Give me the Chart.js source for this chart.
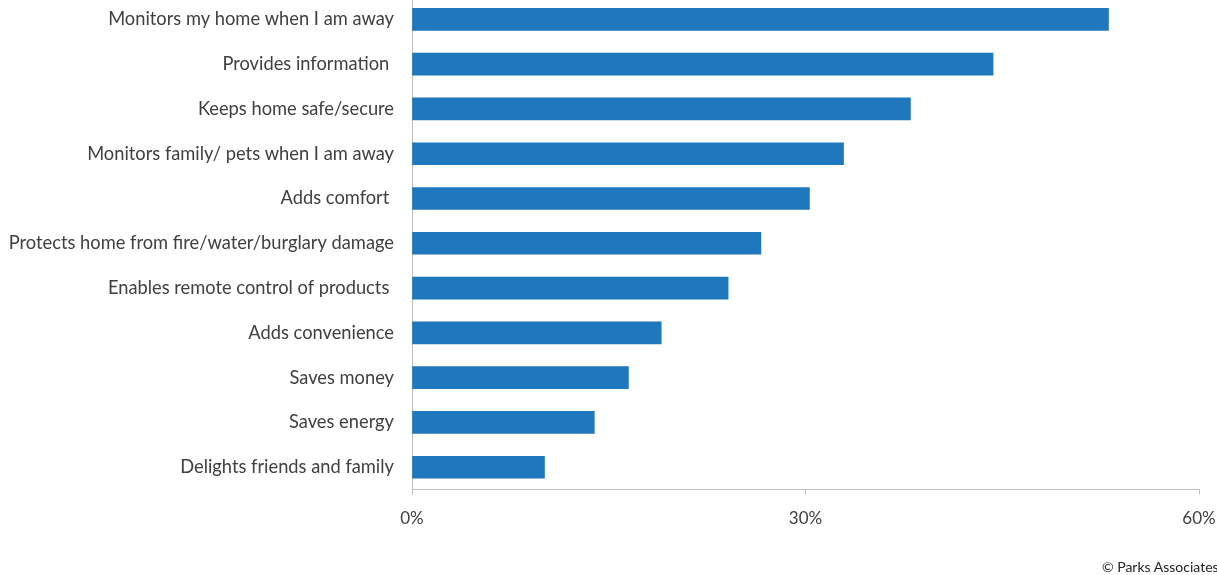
<!DOCTYPE html>
<html>
<head>
<meta charset="utf-8">
<script src="https://cdn.jsdelivr.net/npm/chart.js@4"></script>
<style>
  body { margin: 0; background: #fff; overflow: hidden; }
  #wrap { position: absolute; left: 0; top: -32px; width: 1217px; height: 621px; }
  #credit { position: absolute; left: 1102px; top: 558px; font-family: Lato, sans-serif; font-size: 14px; color: #222; white-space: nowrap; }
</style>
</head>
<body>
<div id="wrap"><canvas id="chart"></canvas></div>
<div id="credit">© Parks Associates</div>
<script>
// Categories and values (% of respondents)
const categories = [
  "Monitors my home when I am away",
  "Provides information ",
  "Keeps home safe/secure",
  "Monitors family/ pets when I am away",
  "Adds comfort ",
  "Protects home from fire/water/burglary damage",
  "Enables remote control of products ",
  "Adds convenience",
  "Saves money",
  "Saves energy",
  "Delights friends and family"
];
const values = [53.1, 44.3, 38.0, 32.9, 30.3, 26.6, 24.1, 19.0, 16.5, 13.9, 10.1];
const xTicks = [0, 30, 60];

const ctx = document.getElementById('chart');

new Chart(ctx, {
  type: 'bar',
  data: {
    labels: categories,
    datasets: [{
      data: values,
      backgroundColor: '#1f77bd',
      barThickness: 22
    }]
  },
  options: {
    indexAxis: 'y',
    responsive: true,
    maintainAspectRatio: false,
    animation: false,
    layout: { padding: { left: 0, right: 18, top: 0, bottom: 46 } },
    plugins: {
      legend: { display: false },
      tooltip: { enabled: false }
    },
    scales: {
      x: {
        min: 0,
        max: 60,
        afterBuildTicks: (scale) => {
          scale.ticks = xTicks.map(v => ({ value: v }));
        },
        afterFit: (scale) => {
          scale.paddingLeft = 0;
          scale.paddingRight = 0;
        },
        ticks: {
          callback: v => v + '%',
          color: '#404040',
          font: { family: 'Lato', size: 17 },
          padding: 14,
          maxRotation: 0
        },
        grid: { drawOnChartArea: false, drawTicks: true, tickLength: 5, color: '#bfbfbf' },
        border: { display: true, color: '#bfbfbf' }
      },
      y: {
        afterFit: (scale) => { scale.width = 412; },
        ticks: {
          color: '#404040',
          font: { family: 'Lato', size: 18.3 },
          padding: 18
        },
        grid: { drawOnChartArea: false, drawTicks: false },
        border: { display: true, color: '#bfbfbf' }
      }
    }
  }
});
</script>
</body>
</html>
